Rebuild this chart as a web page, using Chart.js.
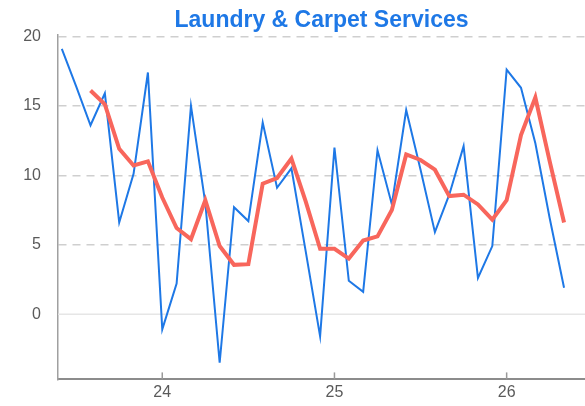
<!DOCTYPE html>
<html>
<head>
<meta charset="utf-8">
<script src="https://cdn.jsdelivr.net/npm/chart.js@4.4.1/dist/chart.umd.min.js"></script>
<style>
  html, body { margin: 0; padding: 0; background: #fff; }
  #wrap { width: 585px; height: 406px; }
</style>
</head>
<body>
<div id="wrap"><canvas id="chart"></canvas></div>
<script>
// monthly series, starting June of year 23
const startYear = 23;
const startMonth = 6;

// monthly values
const monthlyValues = [
  19.1, 16.4, 13.6, 15.9, 6.6, 10.1, 17.4, -1.1, 2.2, 15.0,
  8.0, -3.5, 7.7, 6.7, 13.8, 9.1, 10.5, 4.5, -1.6, 12.0,
  2.4, 1.6, 11.8, 7.9, 14.7, 10.4, 5.9, 8.6, 12.1, 2.6,
  4.9, 17.6, 16.3, 12.3, 6.9, 1.9
];

// smoothed (3 month) line, first two months empty
const smoothValues = [
  null, null, 16.1, 15.1, 11.9, 10.7, 11.0, 8.4, 6.2, 5.4,
  8.2, 4.9, 3.55, 3.6, 9.4, 9.8, 11.2, 8.1, 4.7, 4.7,
  4.0, 5.3, 5.6, 7.5, 11.5, 11.1, 10.4, 8.5, 8.6, 7.9,
  6.8, 8.2, 12.9, 15.6, 11.0, 6.6
];

const yTicks = [0, 5, 10, 15, 20];
const xTicks = [24, 25, 26];

// position of each month on the year axis
const monthX = monthlyValues.map((v, i) => startYear + (startMonth - 1 + i) / 12);

const toPoints = values => values.map((v, i) => ({ x: monthX[i], y: v }));

// zero line and inward x ticks
const axisExtras = {
  id: "axisExtras",
  beforeDatasetsDraw(chart) {
    const { ctx, chartArea, scales } = chart;
    const y0 = scales.y.getPixelForValue(0);
    ctx.save();
    ctx.strokeStyle = "#e6e6e6";
    ctx.lineWidth = 1.5;
    ctx.beginPath();
    ctx.moveTo(chartArea.left, y0);
    ctx.lineTo(chartArea.right, y0);
    ctx.stroke();
    ctx.restore();
  },
  afterDraw(chart) {
    const { ctx, chartArea, scales } = chart;
    ctx.save();
    ctx.strokeStyle = "#999";
    ctx.lineWidth = 1.5;
    scales.x.ticks.forEach(t => {
      const px = scales.x.getPixelForValue(t.value);
      ctx.beginPath();
      ctx.moveTo(px, chartArea.bottom);
      ctx.lineTo(px, chartArea.bottom - 7);
      ctx.stroke();
    });
    ctx.restore();
  }
};

new Chart(document.getElementById("chart"), {
  type: "line",
  data: {
    datasets: [
      {
        label: "Smoothed",
        data: toPoints(smoothValues),
        borderColor: "#f8665c",
        borderWidth: 4,
        pointRadius: 0,
        tension: 0,
        order: 0
      },
      {
        label: "Monthly",
        data: toPoints(monthlyValues),
        borderColor: "#1e78e6",
        borderWidth: 2,
        pointRadius: 0,
        tension: 0,
        order: 1
      }
    ]
  },
  plugins: [axisExtras],
  options: {
    responsive: true,
    maintainAspectRatio: false,
    animation: false,
    layout: { padding: 0 },
    plugins: {
      legend: { display: false },
      tooltip: { enabled: false },
      title: {
        display: true,
        text: "Laundry & Carpet Services",
        color: "#1e78e6",
        fullSize: false,
        font: { family: "Liberation Sans, Arial, sans-serif", size: 23, weight: "bold" },
        padding: { top: 7, bottom: 0.4 }
      }
    },
    scales: {
      x: {
        type: "linear",
        min: 23.3945,
        max: 26.455,
        afterBuildTicks: axis => {
          axis.ticks = xTicks.map(v => ({ value: v }));
        },
        afterFit: axis => {
          axis.height = 23;
        },
        ticks: {
          includeBounds: false,
          stepSize: 1,
          padding: 4,
          color: "#5a5a5a",
          font: { family: "Liberation Sans, Arial, sans-serif", size: 16 }
        },
        grid: { display: false, drawTicks: false },
        border: { display: true, color: "#8c8c8c", width: 2 }
      },
      y: {
        min: -4.7,
        max: 20.1,
        afterBuildTicks: axis => {
          axis.ticks = yTicks.map(v => ({ value: v }));
        },
        afterFit: axis => {
          axis.width = 58;
        },
        ticks: {
          includeBounds: false,
          stepSize: 5,
          padding: 17,
          color: "#5a5a5a",
          font: { family: "Liberation Sans, Arial, sans-serif", size: 16 }
        },
        grid: {
          drawTicks: false,
          color: ctx => (ctx.tick && ctx.tick.value === 0 ? "rgba(0,0,0,0)" : "#cfcfcf"),
          lineWidth: 1.5
        },
        border: { display: true, color: "#a0a0a0", width: 1.5, dash: [8, 6] }
      }
    }
  }
});
</script>
</body>
</html>
